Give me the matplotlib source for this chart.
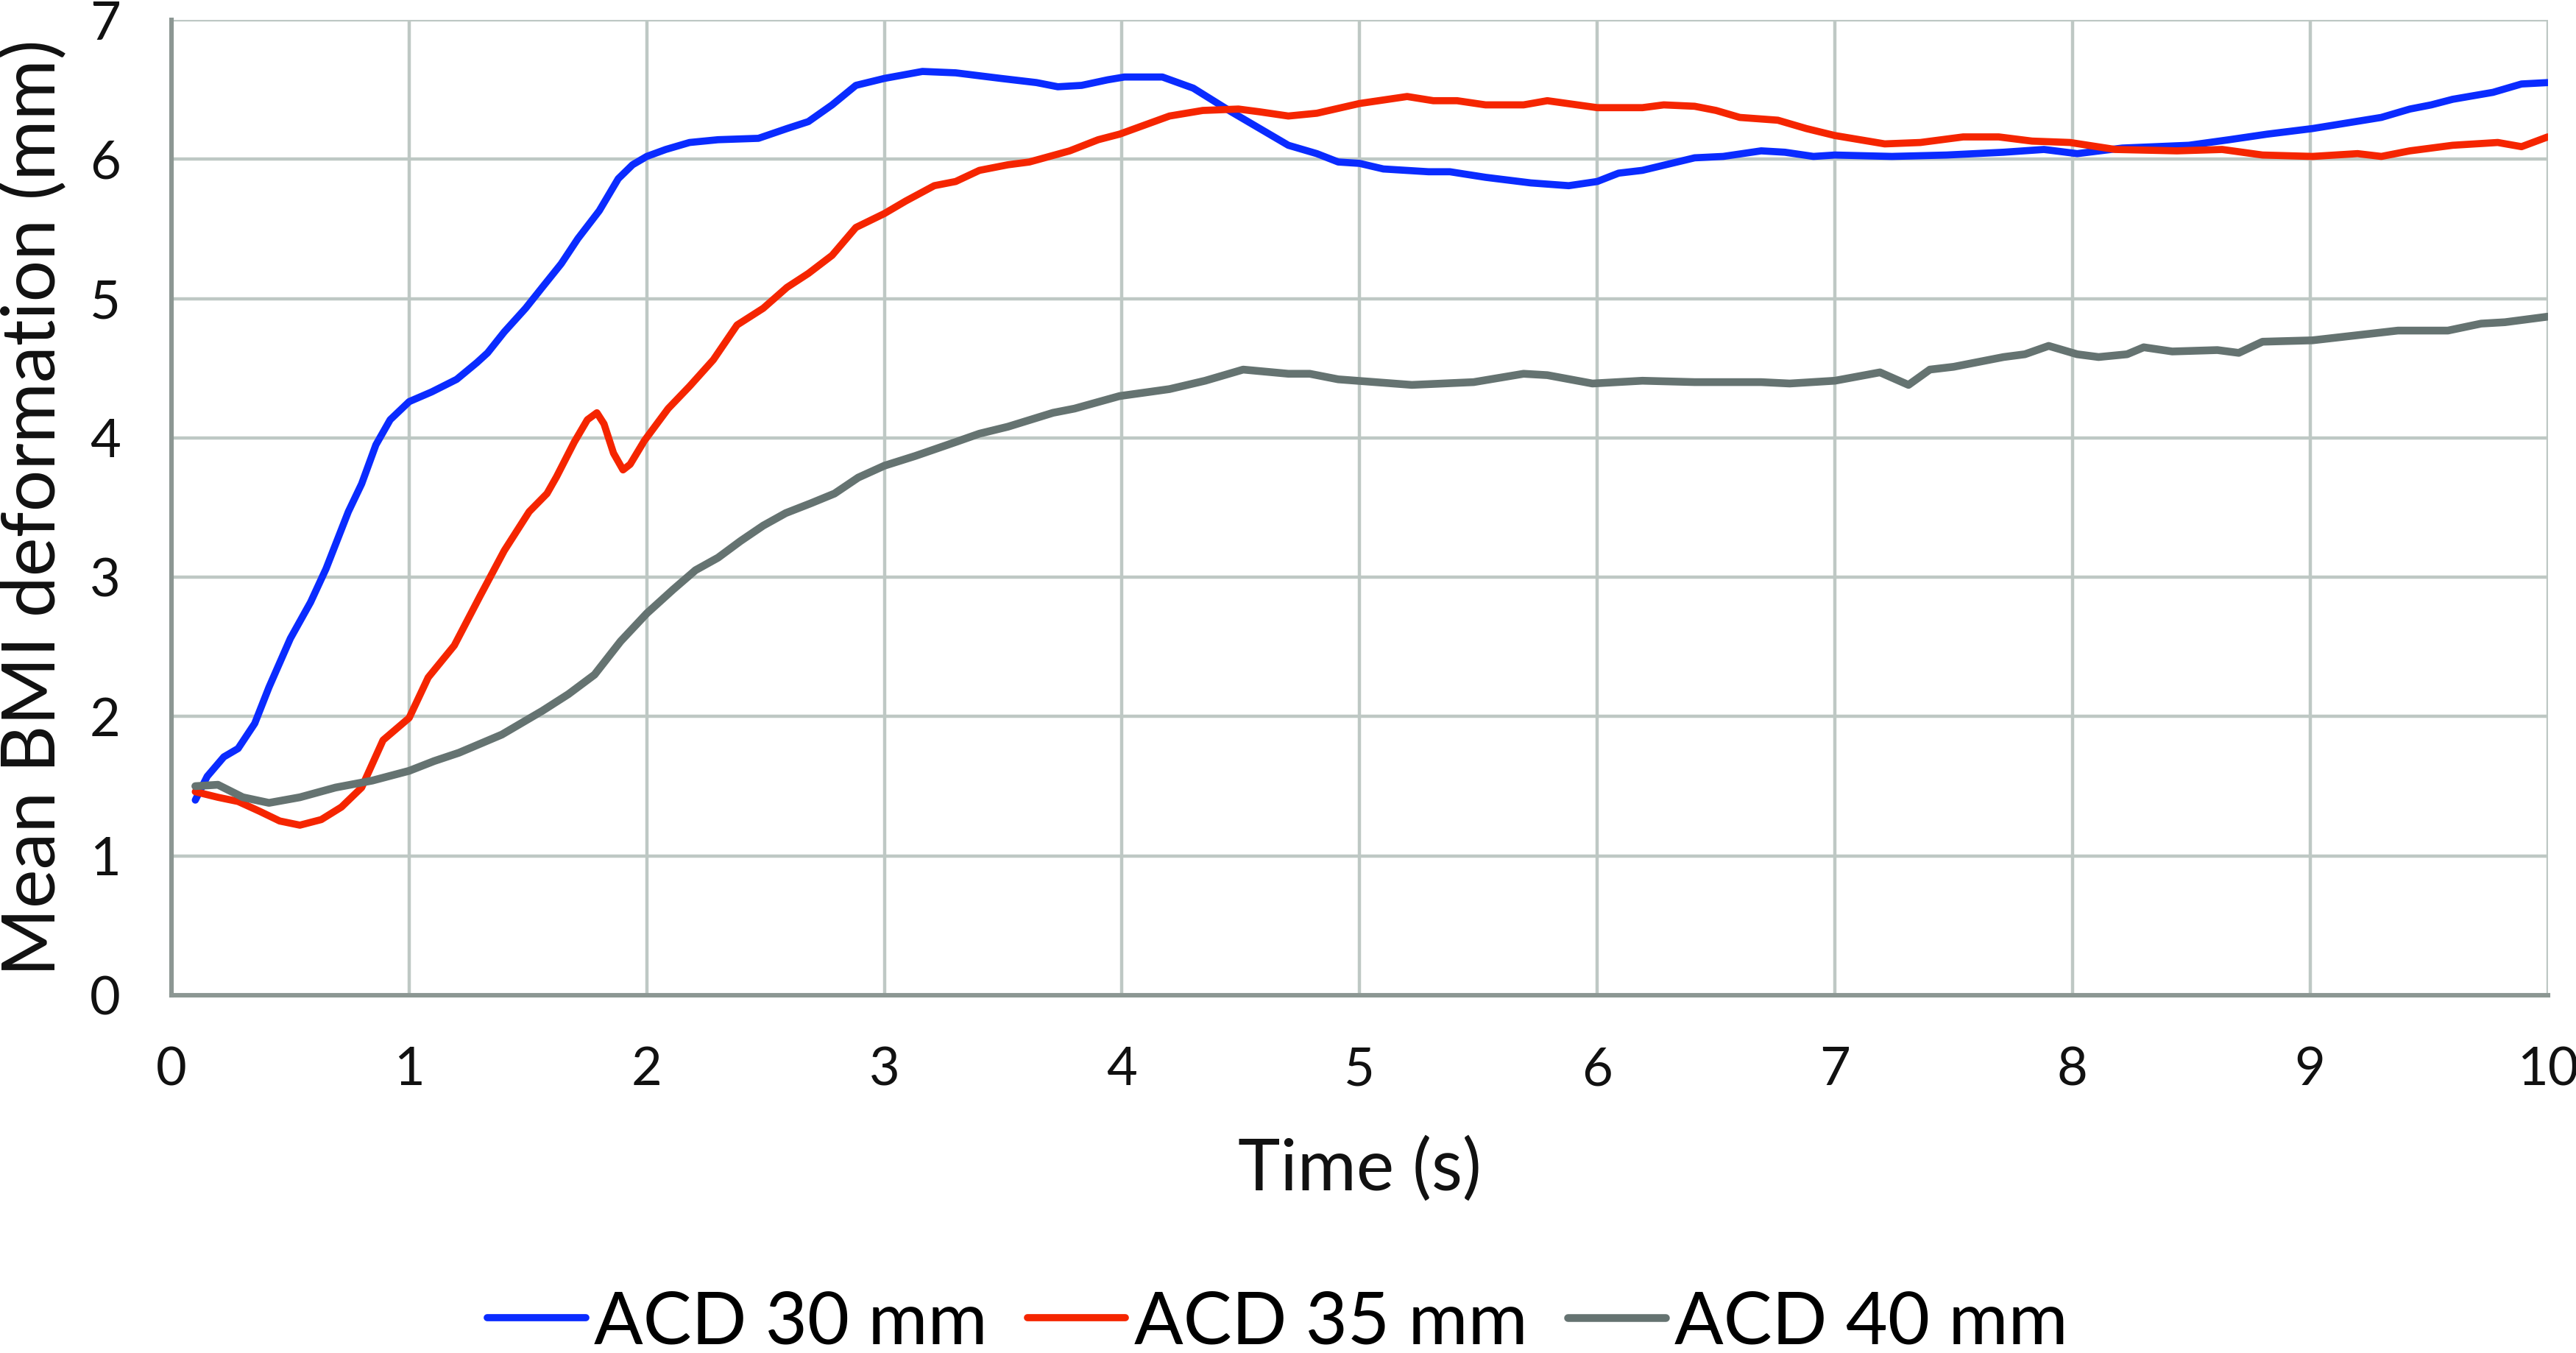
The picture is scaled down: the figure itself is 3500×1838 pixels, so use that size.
import numpy as np
import matplotlib
matplotlib.use('Agg')
import matplotlib.pyplot as plt

plt.rcParams['font.family'] = ['Lato', 'DejaVu Sans']

# ACD 30 mm
t_30 = [0.10, 0.15, 0.22, 0.28, 0.35, 0.41, 0.50, 0.585, 0.65, 0.744, 0.80, 0.86, 0.92, 1.0,
        1.095, 1.20, 1.285, 1.33, 1.40, 1.49, 1.56, 1.64, 1.71, 1.80, 1.88, 1.94, 2.0, 2.08,
        2.18, 2.30, 2.47, 2.59, 2.68, 2.78, 2.88, 3.0, 3.16, 3.30, 3.49, 3.64, 3.73, 3.83,
        3.94, 4.01, 4.17, 4.30, 4.46, 4.58, 4.70, 4.82, 4.91, 5.0, 5.10, 5.29, 5.38, 5.53,
        5.72, 5.88, 6.0, 6.09, 6.19, 6.41, 6.53, 6.69, 6.79, 6.91, 7.0, 7.24, 7.47, 7.71,
        7.88, 8.02, 8.21, 8.49, 8.66, 8.82, 9.01, 9.30, 9.42, 9.51, 9.60, 9.77, 9.89, 10.0]
v_30 = [1.40, 1.57, 1.71, 1.77, 1.95, 2.21, 2.56, 2.82, 3.06, 3.47, 3.67, 3.95, 4.13, 4.26,
        4.33, 4.42, 4.54, 4.61, 4.76, 4.93, 5.08, 5.25, 5.43, 5.63, 5.86, 5.96, 6.02, 6.07,
        6.12, 6.14, 6.15, 6.22, 6.27, 6.39, 6.53, 6.58, 6.63, 6.62, 6.58, 6.55, 6.52, 6.53,
        6.57, 6.59, 6.59, 6.51, 6.34, 6.22, 6.10, 6.04, 5.98, 5.97, 5.93, 5.91, 5.91, 5.87,
        5.83, 5.81, 5.84, 5.90, 5.92, 6.01, 6.02, 6.06, 6.05, 6.02, 6.03, 6.02, 6.03, 6.05,
        6.07, 6.04, 6.08, 6.10, 6.14, 6.18, 6.22, 6.30, 6.36, 6.39, 6.43, 6.48, 6.54, 6.55]

# ACD 35 mm
t_35 = [0.10, 0.195, 0.28, 0.37, 0.455, 0.54, 0.63, 0.715, 0.80, 0.89, 1.0, 1.08, 1.19, 1.30,
        1.40, 1.505, 1.58, 1.62, 1.695, 1.75, 1.79, 1.82, 1.86, 1.90, 1.93, 1.99, 2.09, 2.18,
        2.28, 2.38, 2.49, 2.59, 2.68, 2.78, 2.88, 3.0, 3.09, 3.21, 3.30, 3.40, 3.52, 3.61,
        3.78, 3.90, 3.99, 4.20, 4.34, 4.49, 4.58, 4.70, 4.82, 5.0, 5.20, 5.31, 5.41, 5.53,
        5.69, 5.79, 6.0, 6.19, 6.28, 6.41, 6.50, 6.60, 6.76, 6.88, 7.0, 7.21, 7.36, 7.54,
        7.69, 7.83, 7.99, 8.18, 8.44, 8.63, 8.80, 9.01, 9.20, 9.30, 9.42, 9.60, 9.79, 9.89, 10.0]
v_35 = [1.46, 1.42, 1.39, 1.32, 1.25, 1.22, 1.26, 1.35, 1.49, 1.83, 1.99, 2.28, 2.51, 2.87,
        3.19, 3.47, 3.60, 3.72, 3.97, 4.13, 4.18, 4.10, 3.89, 3.77, 3.81, 3.98, 4.21, 4.37,
        4.56, 4.81, 4.93, 5.08, 5.18, 5.31, 5.51, 5.61, 5.70, 5.81, 5.84, 5.92, 5.96, 5.98,
        6.06, 6.14, 6.18, 6.31, 6.35, 6.36, 6.34, 6.31, 6.33, 6.40, 6.45, 6.42, 6.42, 6.39,
        6.39, 6.42, 6.37, 6.37, 6.39, 6.38, 6.35, 6.30, 6.28, 6.22, 6.17, 6.11, 6.12, 6.16,
        6.16, 6.13, 6.12, 6.07, 6.06, 6.07, 6.03, 6.02, 6.04, 6.02, 6.06, 6.10, 6.12, 6.09, 6.16]

# ACD 40 mm
t_40 = [0.10, 0.195, 0.30, 0.41, 0.54, 0.69, 0.845, 1.0, 1.105, 1.21, 1.39, 1.56, 1.67, 1.78,
        1.89, 2.0, 2.11, 2.205, 2.30, 2.395, 2.49, 2.585, 2.69, 2.79, 2.89, 3.0, 3.13, 3.30,
        3.40, 3.52, 3.71, 3.80, 3.99, 4.20, 4.35, 4.51, 4.70, 4.79, 4.91, 5.22, 5.48, 5.69,
        5.79, 5.98, 6.19, 6.41, 6.69, 6.81, 7.0, 7.19, 7.31, 7.40, 7.50, 7.71, 7.80, 7.90,
        8.02, 8.11, 8.23, 8.30, 8.42, 8.61, 8.70, 8.80, 9.01, 9.37, 9.58, 9.72, 9.82, 10.0]
v_40 = [1.50, 1.51, 1.42, 1.38, 1.42, 1.49, 1.54, 1.61, 1.68, 1.74, 1.87, 2.04, 2.16, 2.30,
        2.54, 2.74, 2.91, 3.05, 3.14, 3.26, 3.37, 3.46, 3.53, 3.60, 3.715, 3.80, 3.87, 3.97,
        4.03, 4.08, 4.18, 4.21, 4.30, 4.35, 4.41, 4.49, 4.46, 4.46, 4.42, 4.38, 4.40, 4.46,
        4.45, 4.39, 4.41, 4.40, 4.40, 4.39, 4.41, 4.47, 4.38, 4.49, 4.51, 4.58, 4.60, 4.66,
        4.60, 4.58, 4.60, 4.65, 4.62, 4.63, 4.61, 4.69, 4.70, 4.77, 4.77, 4.82, 4.83, 4.87]

labels = ['ACD 30 mm', 'ACD 35 mm', 'ACD 40 mm']
colors = ['#0A2BFF', '#F52500', '#657371']
widths = [3.5, 3.5, 3.8]

fig = plt.figure(figsize=(17.5, 9.19), dpi=200)
ax = fig.add_axes([0.0666, 0.2645, 0.9224, 0.7208])

for t, v, lab, c, w in zip([t_30, t_35, t_40], [v_30, v_35, v_40], labels, colors, widths):
    ax.plot(t, v, color=c, lw=w, label=lab, solid_joinstyle='round', solid_capstyle='round')

ax.set_xlim(0, 10)
ax.set_ylim(0, 7)
ax.set_xticks(range(0, 11))
ax.set_yticks(range(0, 8))
ax.grid(True, color='#BEC8C4', lw=1.6)
ax.set_axisbelow(True)
for s in ['top', 'right']:
    ax.spines[s].set_visible(False)
for s in ['left', 'bottom']:
    ax.spines[s].set_color('#8C9793')
    ax.spines[s].set_linewidth(2.2)
ax.tick_params(length=0, labelsize=26, pad=25, labelcolor='#111111')

ax.set_xlabel('Time (s)', fontsize=35, va='center', color='#111111')
ax.xaxis.set_label_coords(0.5, -0.179)
ax.set_ylabel('Mean BMI deformation (mm)', fontsize=36, va='center', color='#111111')
ax.yaxis.set_label_coords(-0.058, 0.5)

fig.legend(loc='center', bbox_to_anchor=(0.496, 0.0223), ncol=3, frameon=False,
           fontsize=35.5, handlelength=1.35, handletextpad=0.12, columnspacing=0.55)

fig.savefig('out.png', dpi=200)
